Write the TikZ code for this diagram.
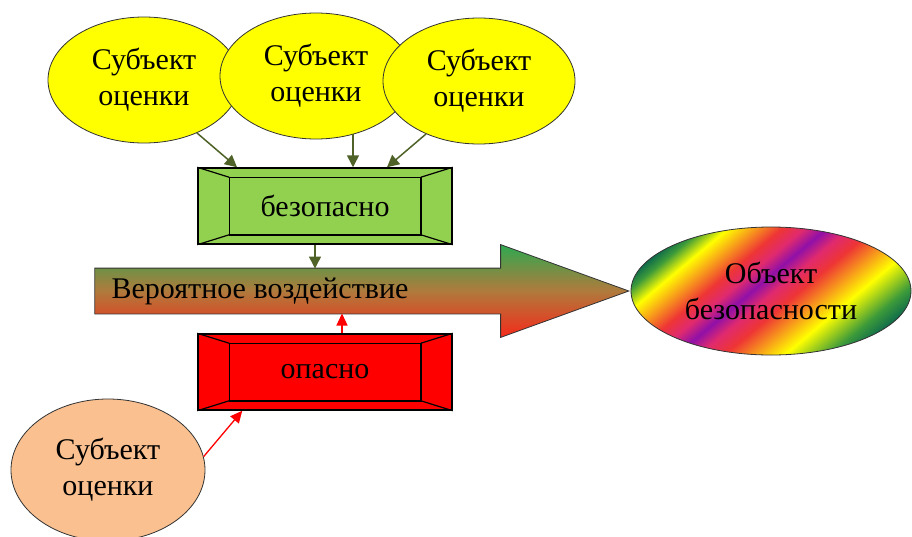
\documentclass[tikz,border=0pt]{standalone}
\usepackage{fontspec}
\setmainfont{Liberation Serif}
\usetikzlibrary{shapes.geometric, shapes.arrows, arrows.meta}

\definecolor{amarelo}{HTML}{FFFF00}
\definecolor{verdecx}{HTML}{92D050}
\definecolor{pessego}{HTML}{FAC090}
\definecolor{oliva}{HTML}{4F6228}
\definecolor{setaTopo}{HTML}{2EA850}
\definecolor{setaMeio}{HTML}{B07A3C}
\definecolor{setaBase}{HTML}{F52A1A}
\definecolor{arcoA}{HTML}{0E6B4B}
\definecolor{arcoB}{HTML}{3C9A3A}
\definecolor{arcoC}{HTML}{F7941D}
\definecolor{arcoD}{HTML}{EE3535}
\definecolor{arcoE}{HTML}{E02A6E}
\definecolor{arcoF}{HTML}{9010A8}

\pgfdeclarehorizontalshading{arcoiris}{100bp}{color(0bp)=(arcoA); color(25bp)=(arcoA);
	color(27.5bp)=(arcoB); color(31.5bp)=(amarelo); color(36bp)=(arcoC); color(40bp)=(arcoD);
	color(43.5bp)=(arcoE); color(47bp)=(arcoF); color(50.5bp)=(arcoE); color(54.5bp)=(arcoD);
	color(59bp)=(arcoC); color(64bp)=(amarelo); color(71bp)=(arcoB); color(75bp)=(arcoA);
	color(100bp)=(arcoA)}

% chanfro das caixas
\newcommand{\chanfro}[1]{%
	\draw[line width=1.5pt] ([shift={(32pt,-10pt)}]#1.north west) rectangle ([shift={(-32pt,10pt)}]#1.south east);
	\draw[line width=1.2pt] (#1.north west) -- ([shift={(32pt,-10pt)}]#1.north west)
		(#1.north east) -- ([shift={(-32pt,-10pt)}]#1.north east)
		(#1.south west) -- ([shift={(32pt,10pt)}]#1.south west)
		(#1.south east) -- ([shift={(-32pt,10pt)}]#1.south east);
}

\begin{document}
\begin{tikzpicture}[x=1pt, y=-1pt,
		font=\fontsize{30}{36}\selectfont,
		sujeito/.style={ellipse, draw=black!80, line width=0.8pt, fill=amarelo, minimum width=192pt,
			minimum height=126pt, inner sep=0pt, align=center},
		caixa/.style={rectangle, draw=black, line width=1.5pt, minimum width=254pt, minimum height=76pt},
		ligacao/.style={draw=oliva, line width=1.5pt, -{Triangle[length=12pt, width=12pt]}},
		ligver/.style={draw=red, line width=1.3pt, -{Triangle[length=12pt, width=11pt]}}]
	\useasboundingbox[fill=white] (0,0) rectangle (912,536);
	% sujeitos
	\foreach \n/\x/\y in {1/144/80, 2/316/76, 3/479/81} {
			\node[sujeito] (s\n) at (\x,\y) {Субъект\\оценки};
		}
	\node[sujeito, fill=pessego, minimum width=194pt, minimum height=142pt] (aval) at (108,470) {Субъект\\оценки};
	% caixas
	\node[caixa, fill=verdecx] (seguro) at (325,206) {безопасно};
	\chanfro{seguro}
	\node[caixa, fill=red] (perigo) at (325,372) {опасно};
	\chanfro{perigo}
	% seta
	\node[single arrow, draw=black!80, line width=0.8pt, top color=setaTopo, bottom color=setaBase,
		middle color=setaMeio, minimum height=534pt, minimum width=92pt, inner ysep=22.5pt, inner xsep=0pt,
		single arrow head extend=23.5pt, single arrow tip angle=39.8, anchor=tip] (acao) at (630,291) {};
	\node[anchor=west, inner sep=0pt] (rotulo) at ([xshift=17pt]acao.tail) {Вероятное воздействие};
	\coordinate (topoSeta) at ([yshift=22.5pt]acao.tail);
	\coordinate (baseSeta) at ([yshift=-22.5pt]acao.tail);
	% objeto
	\begin{scope}
		\clip (771,291) ellipse [x radius=140pt, y radius=64pt];
		\begin{scope}[transform canvas={rotate around={-50:(771,291)}}]
			\shade[shading=arcoiris] (668.5,141) rectangle (873.5,441);
		\end{scope}
	\end{scope}
	\node[ellipse, draw=black!80, line width=0.8pt, minimum width=280pt, minimum height=128pt,
		inner sep=0pt, align=center] (objeto) at (771,291) {Объект\\безопасности};
	% ligações
	\draw[ligacao] (s1.-45) -- ([xshift=-88pt]seguro.north);
	\draw[ligacao] ([xshift=28pt]seguro.north |- s2.-57.5) -- ([xshift=28pt]seguro.north);
	\draw[ligacao] (s3.-135) -- ([xshift=62pt]seguro.north);
	\draw[ligacao] ([xshift=-10pt]seguro.south) -- ([xshift=-10pt]seguro.south |- topoSeta);
	\draw[ligver] ([xshift=17pt]perigo.north) -- ([xshift=17pt]perigo.north |- baseSeta);
	\draw[ligver] (aval.8) -- ([xshift=45pt]perigo.south west);
\end{tikzpicture}
\end{document}
